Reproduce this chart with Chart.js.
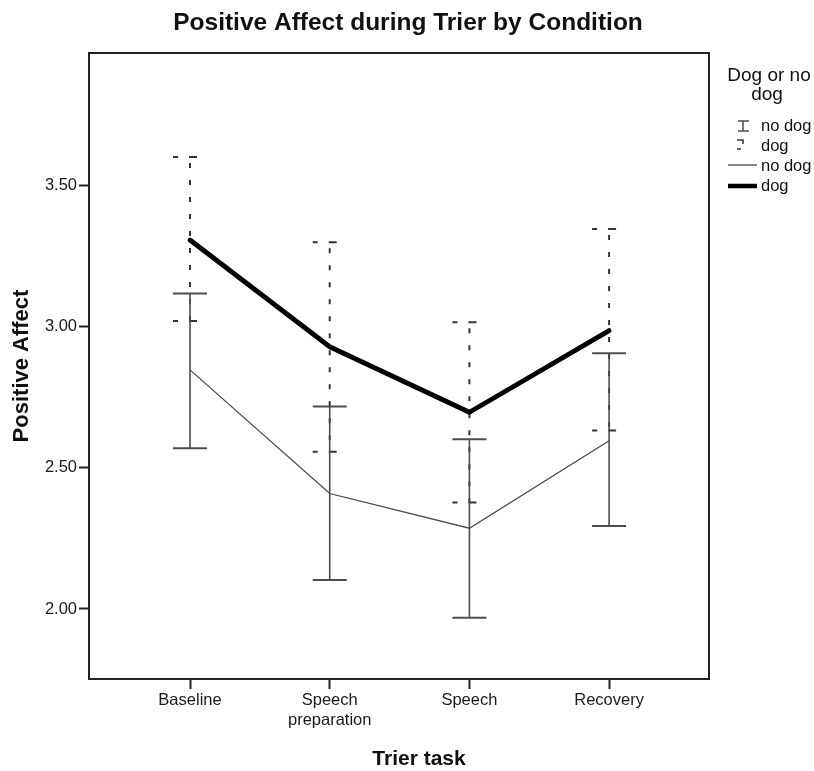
<!DOCTYPE html>
<html><head><meta charset="utf-8">
<script src="https://cdn.jsdelivr.net/npm/chart.js@4"></script>
<style>html,body{margin:0;padding:0;background:#fff;}#wrap{width:814px;height:771px;position:relative;}</style>
</head><body><div id="wrap"><canvas id="c" width="814" height="771"></canvas></div>
<script>
const categories = ["Baseline", ["Speech", "preparation"], "Speech", "Recovery"];
const noDogMean  = [2.847, 2.409, 2.286, 2.596];
const noDogUpper = [3.118, 2.717, 2.601, 2.906];
const noDogLower = [2.569, 2.103, 1.969, 2.294];
const dogMean    = [3.307, 2.929, 2.697, 2.986];
const dogUpper   = [3.601, 3.299, 3.016, 3.346];
const dogLower   = [3.020, 2.557, 2.377, 2.632];
const yTicks = [2.0, 2.5, 3.0, 3.5];
const chartTitle = "Positive Affect during Trier by Condition";
const xTitle = "Trier task";
const yTitle = "Positive Affect";
const legendTitle = ["Dog or no", "dog"];
const seriesNames = ["no dog", "dog"];

const FAM = "'Liberation Sans', Arial, Helvetica, sans-serif";

const errorBars = {
  id: 'errorBars',
  beforeDatasetsDraw(chart) {
    const ctx = chart.ctx, xs = chart.scales.x, ys = chart.scales.y;
    ctx.save();
    for (let i = 0; i < dogMean.length; i++) {
      const x = xs.getPixelForValue(i);
      const yt = ys.getPixelForValue(dogUpper[i]);
      const yb = ys.getPixelForValue(dogLower[i]);
      ctx.strokeStyle = '#333';
      ctx.lineWidth = 2;
      ctx.setLineDash([5, 12]);
      ctx.beginPath(); ctx.moveTo(x, yt + 6); ctx.lineTo(x, yb); ctx.stroke();
      ctx.setLineDash([]);
      for (const yc of [yt, yb]) {
        ctx.beginPath();
        ctx.moveTo(x - 17, yc); ctx.lineTo(x - 12, yc);
        ctx.moveTo(x - 1, yc); ctx.lineTo(x + 7, yc);
        ctx.stroke();
      }
    }
    for (let i = 0; i < noDogMean.length; i++) {
      const x = xs.getPixelForValue(i);
      const yt = ys.getPixelForValue(noDogUpper[i]);
      const yb = ys.getPixelForValue(noDogLower[i]);
      ctx.strokeStyle = '#4d4d4d';
      ctx.lineWidth = 1.6;
      ctx.beginPath(); ctx.moveTo(x, yt); ctx.lineTo(x, yb); ctx.stroke();
      ctx.lineWidth = 2;
      ctx.beginPath();
      ctx.moveTo(x - 17, yt); ctx.lineTo(x + 17, yt);
      ctx.moveTo(x - 17, yb); ctx.lineTo(x + 17, yb);
      ctx.stroke();
    }
    ctx.restore();
  }
};

const decor = {
  id: 'decor',
  afterDraw(chart) {
    const ctx = chart.ctx, a = chart.chartArea;
    ctx.save();
    ctx.strokeStyle = '#222';
    ctx.lineWidth = 2;
    ctx.strokeRect(a.left, a.top, a.right - a.left, a.bottom - a.top);
    ctx.fillStyle = '#111';
    ctx.textAlign = 'center';
    ctx.textBaseline = 'middle';
    ctx.font = "bold 24.5px " + FAM;
    ctx.fillText(chartTitle, 408, 23);
    ctx.font = "bold 21px " + FAM;
    ctx.fillText(xTitle, 419, 759);
    ctx.save();
    ctx.translate(22, 366);
    ctx.rotate(-Math.PI / 2);
    ctx.font = "bold 22px " + FAM;
    ctx.fillText(yTitle, 0, 0);
    ctx.restore();
    ctx.font = "19px " + FAM;
    ctx.fillText(legendTitle[0], 769, 76);
    ctx.fillText(legendTitle[1], 767, 95);
    ctx.textAlign = 'left';
    ctx.font = "16.5px " + FAM;
    const tx = 761;
    const rows = [126, 146, 166, 186];
    ctx.fillText(seriesNames[0], tx, rows[0]);
    ctx.fillText(seriesNames[1], tx, rows[1]);
    ctx.fillText(seriesNames[0], tx, rows[2]);
    ctx.fillText(seriesNames[1], tx, rows[3]);
    ctx.strokeStyle = '#4d4d4d';
    ctx.lineWidth = 1.5;
    ctx.beginPath();
    ctx.moveTo(743, 121); ctx.lineTo(743, 131);
    ctx.moveTo(738, 121); ctx.lineTo(749, 121);
    ctx.moveTo(738, 131); ctx.lineTo(749, 131);
    ctx.stroke();
    ctx.strokeStyle = '#333';
    ctx.beginPath();
    ctx.moveTo(737, 140); ctx.lineTo(743, 140); ctx.lineTo(743, 144);
    ctx.moveTo(737, 149); ctx.lineTo(741, 149);
    ctx.stroke();
    ctx.strokeStyle = '#4a4a4a';
    ctx.lineWidth = 1.3;
    ctx.beginPath(); ctx.moveTo(728, 165); ctx.lineTo(757, 165); ctx.stroke();
    ctx.strokeStyle = '#000';
    ctx.lineWidth = 4.5;
    ctx.beginPath(); ctx.moveTo(728, 186); ctx.lineTo(757, 186); ctx.stroke();
    ctx.restore();
  }
};

const tickFont = { family: FAM, size: 16.5 };

new Chart(document.getElementById('c'), {
  type: 'line',
  data: {
    datasets: [
      { label: seriesNames[0], data: noDogMean.map((v, i) => ({ x: i, y: v })),
        borderColor: '#4a4a4a', borderWidth: 1.3, pointRadius: 0, tension: 0, fill: false },
      { label: seriesNames[1], data: dogMean.map((v, i) => ({ x: i, y: v })),
        borderColor: '#000', borderWidth: 4.8, pointRadius: 0, tension: 0, fill: false,
        borderJoinStyle: 'round', borderCapStyle: 'round' }
    ]
  },
  options: {
    responsive: false,
    animation: false,
    devicePixelRatio: 1,
    layout: { padding: { left: 0, top: 53, right: 105, bottom: 0 } },
    plugins: { legend: { display: false }, title: { display: false }, tooltip: { enabled: false } },
    scales: {
      x: {
        type: 'linear', min: -0.723, max: 3.715,
        afterBuildTicks: s => { s.ticks = [0, 1, 2, 3].map(v => ({ value: v })); },
        afterFit: s => { s.height = 92; },
        ticks: { callback: v => categories[v], font: tickFont, color: '#1a1a1a', padding: 2,
                 maxRotation: 0, autoSkip: false },
        grid: { drawOnChartArea: false, drawTicks: true, tickLength: 10, tickColor: '#222', tickWidth: 2 },
        border: { display: false }
      },
      y: {
        type: 'linear', min: 1.752, max: 3.9695,
        afterBuildTicks: s => { s.ticks = yTicks.map(v => ({ value: v })); },
        afterFit: s => { s.width = 89; },
        ticks: { callback: v => Number(v).toFixed(2), font: tickFont, color: '#1a1a1a', padding: 2 },
        grid: { drawOnChartArea: false, drawTicks: true, tickLength: 10, tickColor: '#222', tickWidth: 2 },
        border: { display: false }
      }
    }
  },
  plugins: [errorBars, decor]
});
</script>
</body></html>
